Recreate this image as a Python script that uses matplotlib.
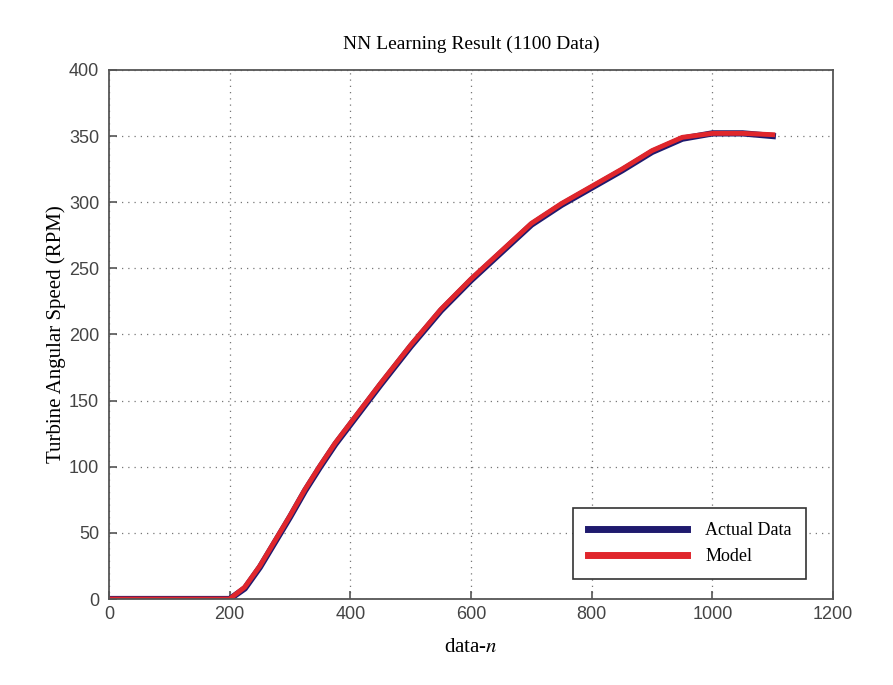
import matplotlib.pyplot as plt

plt.rcParams['mathtext.fontset'] = 'stix'  # Times-like italic for the n.

data_n = [0, 50, 100, 150, 200, 225, 250, 275, 300, 325, 350, 375, 400, 450, 500,
          550, 600, 650, 700, 750, 800, 850, 900, 950, 1000, 1050, 1100]
actual = [0, 0, 0, 0, 0, 8, 24, 43, 62, 82, 100, 117, 132, 162, 191,
          218, 241, 262, 283, 298, 311, 324, 338, 348, 352, 352, 350]
model = [0, 0, 0, 0, 0, 9, 25, 44, 63, 83, 101, 118, 133, 163, 192,
         219, 242, 263, 284, 299, 312, 325, 339, 349, 352, 352, 351]

x_ticks = [0, 200, 400, 600, 800, 1000, 1200]
y_ticks = [0, 50, 100, 150, 200, 250, 300, 350, 400]

SERIF = 'Liberation Serif'
SANS = 'Liberation Sans'

fig = plt.figure(figsize=(8.93, 6.85), dpi=100)
ax = fig.add_axes([0.122, 0.1255, 0.811, 0.7725])

ax.plot(data_n, actual, color='#1f1a6e', linewidth=4.5, label='Actual Data')
ax.plot(data_n, model, color='#e0262c', linewidth=3.5, label='Model')

ax.set_xlim(0, 1200)
ax.set_ylim(0, 400)
ax.set_xticks(x_ticks)
ax.set_yticks(y_ticks)
ax.grid(True, linestyle=(0, (1, 4)), color='#777777', linewidth=0.9)
ax.tick_params(direction='in', length=6, width=1.2, color='#555555',
               labelsize=13, labelcolor='#444444')
ax.tick_params(axis='y', pad=7)
ax.tick_params(axis='x', pad=5)
for lab in ax.get_xticklabels() + ax.get_yticklabels():
    lab.set_fontfamily(SANS)
for spine in ax.spines.values():
    spine.set_color('#555555')
    spine.set_linewidth(1.3)

ax.set_title('NN Learning Result (1100 Data)', fontfamily=SERIF, fontsize=14, pad=15)
ax.set_xlabel('data-$n$', fontfamily=SERIF, fontsize=15, labelpad=11)
ax.set_ylabel('Turbine Angular Speed (RPM)', fontfamily=SERIF, fontsize=15, labelpad=2)

leg = ax.legend(loc='lower right', bbox_to_anchor=(0.975, 0.02), fancybox=False,
                framealpha=1, edgecolor='#333333', handlelength=5.5, borderpad=0.8,
                labelspacing=0.5, handletextpad=1.0,
                prop={'family': SERIF, 'size': 13})
for line in leg.get_lines():
    line.set_linewidth(5)
leg.get_frame().set_linewidth(1.2)

fig.savefig('out.png', dpi=100)
